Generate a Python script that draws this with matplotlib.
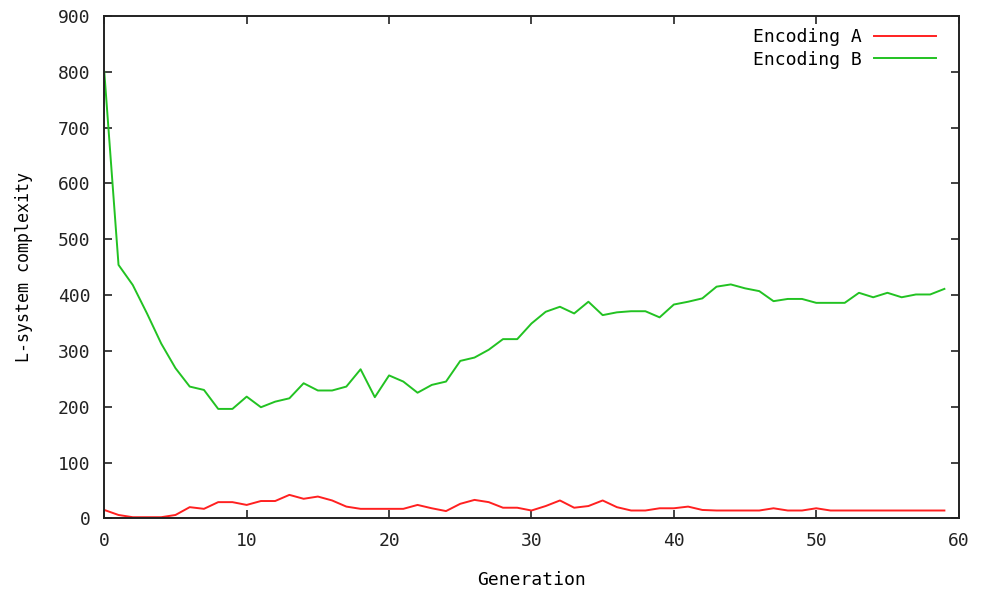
import matplotlib
matplotlib.use("Agg")
import matplotlib.pyplot as plt
import numpy as np

# generation index and complexity for the two encodings
generation = np.arange(60)

encoding_a = [15, 6, 2, 2, 2, 6, 20, 17, 29, 29,
              24, 31, 31, 42, 35, 39, 32, 21, 17, 17,
              17, 17, 24, 18, 13, 26, 33, 29, 19, 19,
              14, 22, 32, 19, 22, 32, 20, 14, 14, 18,
              18, 21, 15, 14, 14, 14, 14, 18, 14, 14,
              18, 14, 14, 14, 14, 14, 14, 14, 14, 14]

encoding_b = [800, 454, 418, 367, 313, 269, 236, 230, 196, 196,
              218, 199, 209, 215, 242, 229, 229, 236, 267, 217,
              256, 245, 225, 239, 245, 282, 288, 302, 321, 321,
              349, 370, 379, 367, 388, 364, 369, 371, 371, 360,
              383, 388, 394, 415, 419, 412, 407, 389, 393, 393,
              386, 386, 386, 404, 396, 404, 396, 401, 401, 411]

x_ticks = [0, 10, 20, 30, 40, 50, 60]
y_ticks = [0, 100, 200, 300, 400, 500, 600, 700, 800, 900]

plt.rcParams['font.family'] = ['DejaVu Sans Mono']

fig = plt.figure(figsize=(9.81, 5.94), dpi=100)
ax = fig.add_axes([0.1063, 0.1274, 0.8709, 0.8458])

ax.plot(generation, encoding_a, color='#ff2020', lw=1.4, label='Encoding A')
ax.plot(generation, encoding_b, color='#22c222', lw=1.4, label='Encoding B')

ax.set_xlim(0, 60)
ax.set_ylim(0, 900)
ax.set_xticks(x_ticks)
ax.set_yticks(y_ticks)
ax.tick_params(direction='in', length=6, width=1.2, top=True, right=True,
               labelsize=13, pad=10, colors='#222222')
for s in ax.spines.values():
    s.set_linewidth(1.4)
    s.set_color('#222222')

ax.set_xlabel('Generation', fontsize=13, labelpad=15)
ax.set_ylabel('L-system complexity', fontsize=12, labelpad=18)

leg = ax.legend(loc='upper right', bbox_to_anchor=(0.992, 1.008), frameon=False,
                markerfirst=False, fontsize=13, handlelength=3.4,
                handletextpad=0.7, labelspacing=0.25)

fig.savefig('out.png', dpi=100)
